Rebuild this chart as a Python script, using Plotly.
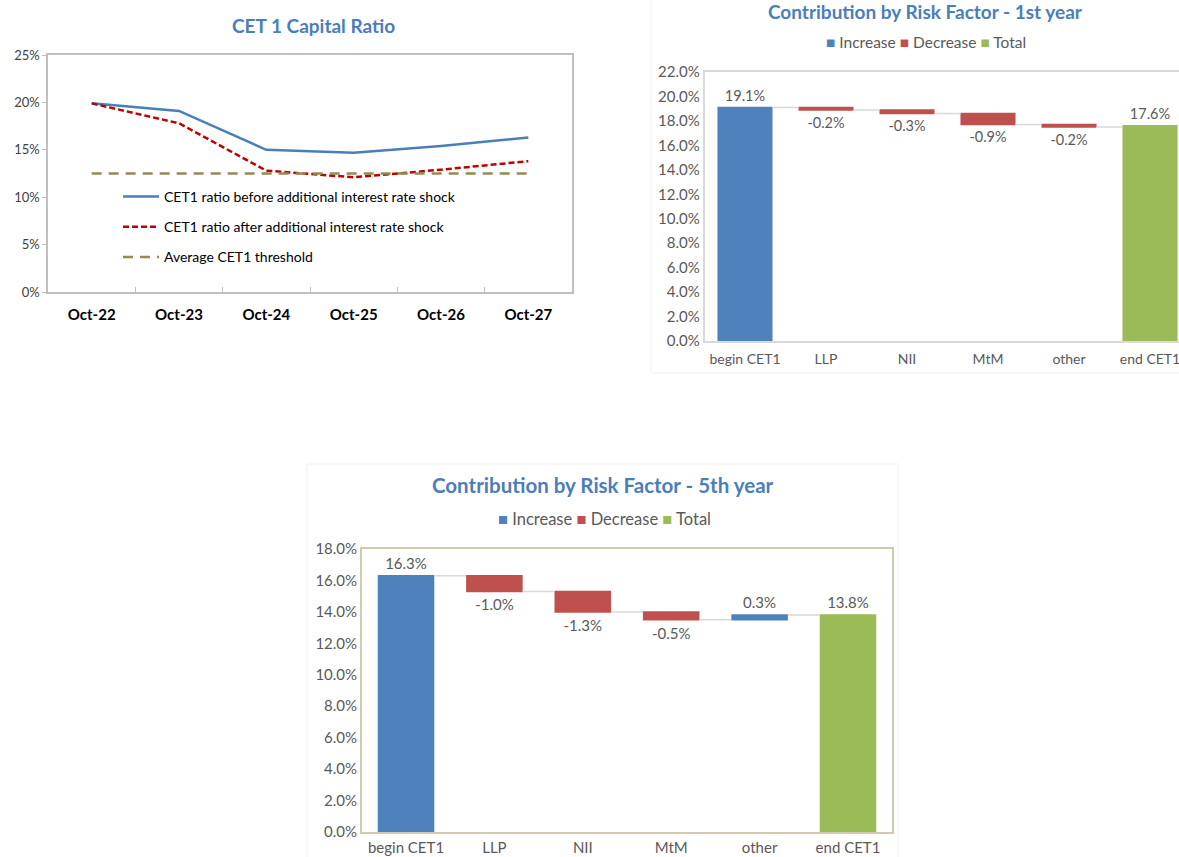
import plotly.graph_objects as go

# ---------------- data ----------------
years = ["Oct-22", "Oct-23", "Oct-24", "Oct-25", "Oct-26", "Oct-27"]
cet1_before = [19.9, 19.1, 15.0, 14.7, 15.4, 16.3]
cet1_after = [19.9, 17.8, 12.8, 12.1, 12.9, 13.8]
cet1_threshold = [12.5, 12.5, 12.5, 12.5, 12.5, 12.5]

factors = ["begin CET1", "LLP", "NII", "MtM", "other", "end CET1"]
measures = ["relative", "relative", "relative", "relative", "relative", "absolute"]
year1_values = [19.1, -0.2, -0.3, -0.9, -0.2, 17.6]
year5_values = [16.3, -1.0, -1.3, -0.5, 0.3, 13.8]

legend_names = ["Increase", "Decrease", "Total"]

# ---------------- style ----------------
W, H = 1179, 857
FONT = "Lato"
BLUE = "#4F81BD"
RED = "#C0504D"
GREEN = "#9BBB59"
TITLE_C = "#4A7EBB"
GRAY_TXT = "#595959"
legend_colors = [BLUE, RED, GREEN]


def px_x(p):
    return p / W


def px_y(p):
    return 1 - p / H


fig = go.Figure()

# ---- chart 1: line chart ----
fig.add_trace(go.Scatter(x=years, y=cet1_before, mode="lines",
                         name="CET1 ratio before additional interest rate shock",
                         line=dict(color="#4A7EBB", width=2.5),
                         xaxis="x", yaxis="y", legendgroup="a"))
fig.add_trace(go.Scatter(x=years, y=cet1_after, mode="lines",
                         name="CET1 ratio after additional interest rate shock",
                         line=dict(color="#C00000", width=2.5, dash="6px,3px"),
                         xaxis="x", yaxis="y", legendgroup="b"))
fig.add_trace(go.Scatter(x=years, y=cet1_threshold, mode="lines",
                         name="Average CET1 threshold",
                         line=dict(color="#948A54", width=2.5, dash="10px,7px"),
                         xaxis="x", yaxis="y", legendgroup="c"))


# ---- waterfalls ----
def add_waterfall(values, xa, ya, width, fsize):
    fig.add_trace(go.Waterfall(
        x=factors, y=values, measure=measures,
        text=[f"{v:.1f}%" for v in values], textposition="outside",
        textfont=dict(family=FONT, size=fsize, color=GRAY_TXT),
        cliponaxis=False,
        increasing=dict(marker=dict(color=BLUE, line=dict(width=0))),
        decreasing=dict(marker=dict(color=RED, line=dict(width=0))),
        totals=dict(marker=dict(color=GREEN, line=dict(width=0))),
        connector=dict(line=dict(color="#D9D9D9", width=1.5)),
        width=width, showlegend=False, xaxis=xa, yaxis=ya))


add_waterfall(year1_values, "x2", "y2", 0.68, 14.5)
add_waterfall(year5_values, "x3", "y3", 0.64, 15)

axis_common = dict(showgrid=False, zeroline=False, showline=True, mirror=True,
                   automargin=False)

fig.update_layout(
    width=W, height=H,
    margin=dict(l=0, r=0, t=0, b=0, autoexpand=False),
    paper_bgcolor="white", plot_bgcolor="white",
    font=dict(family=FONT, size=14, color=GRAY_TXT),
    # chart 1
    xaxis=dict(domain=[px_x(48), px_x(572)], anchor="y", type="category",
               range=[-0.5, 5.5], linecolor="#BFBFBF", linewidth=1.5,
               ticks="inside", tickson="boundaries", ticklen=5, tickcolor="#BFBFBF",
               ticklabelstandoff=8,
               tickfont=dict(family=FONT, size=15, color="#000000", weight="bold"),
               **axis_common),
    yaxis=dict(domain=[px_y(292), px_y(55)], anchor="x", range=[0, 25], dtick=5,
               ticksuffix="%", linecolor="#BFBFBF", linewidth=1.5,
               ticks="outside", ticklen=4, tickcolor="#BFBFBF",
               tickfont=dict(family=FONT, size=13, color="#404040"),
               **axis_common),
    # chart 2
    xaxis2=dict(domain=[px_x(704.5), 1.0], anchor="y2", type="category",
                range=[-0.5, 5.358], linecolor="#D9D9D9", linewidth=1.5, ticks="",
                ticklabelstandoff=4,
                tickfont=dict(family=FONT, size=14, color=GRAY_TXT), **axis_common),
    yaxis2=dict(domain=[px_y(341), px_y(72)], anchor="x2", range=[0, 22], dtick=2,
                tickformat=".1f", ticksuffix="%", linecolor="#D9D9D9", linewidth=1.5,
                ticks="", tickfont=dict(family=FONT, size=15, color=GRAY_TXT),
                **axis_common),
    # chart 3
    xaxis3=dict(domain=[px_x(361.8), px_x(892.2)], anchor="y3", type="category",
                range=[-0.5, 5.5], linecolor="#D0CBB0", linewidth=1.5, ticks="",
                ticklabelstandoff=1,
                tickfont=dict(family=FONT, size=15, color=GRAY_TXT), **axis_common),
    yaxis3=dict(domain=[px_y(832), px_y(549)], anchor="x3", range=[0, 18], dtick=2,
                tickformat=".1f", ticksuffix="%", linecolor="#D0CBB0", linewidth=1.5,
                ticks="", tickfont=dict(family=FONT, size=15, color=GRAY_TXT),
                **axis_common),
    legend=dict(x=px_x(118), y=px_y(181), xanchor="left", yanchor="top",
                bgcolor="rgba(0,0,0,0)", tracegroupgap=9, itemwidth=36,
                font=dict(family=FONT, size=14, color="#000000")),
    showlegend=True,
)

titles = [("CET 1 Capital Ratio", 313, 25, 19),
          ("Contribution by Risk Factor - 1st year", 925, 11, 19),
          ("Contribution by Risk Factor - 5th year", 603, 485, 20.5)]
for t, tx, ty, fs in titles:
    fig.add_annotation(text=t, x=px_x(tx), y=px_y(ty), xref="paper", yref="paper",
                       xanchor="center", yanchor="middle", showarrow=False,
                       font=dict(family=FONT, size=fs, color=TITLE_C, weight="bold"))

# compact Excel-style legends for the waterfalls
legend_text = " ".join(f"<span style='color:{c}'>■</span> {n}"
                       for n, c in zip(legend_names, legend_colors))
for lx, ly, fs in [(926, 42, 15.5), (604, 519, 16.5)]:
    fig.add_annotation(text=legend_text, x=px_x(lx), y=px_y(ly), xref="paper",
                       yref="paper", xanchor="center", yanchor="middle",
                       showarrow=False, font=dict(family=FONT, size=fs, color=GRAY_TXT))

# faint chart-area borders (Excel chart frames)
fig.add_shape(type="rect", xref="paper", yref="paper",
              x0=px_x(651), x1=px_x(1185), y0=px_y(373), y1=px_y(-5),
              line=dict(color="#F0F0F0", width=1), layer="below")
fig.add_shape(type="rect", xref="paper", yref="paper",
              x0=px_x(307), x1=px_x(898), y0=px_y(865), y1=px_y(464),
              line=dict(color="#F0F0F0", width=1), layer="below")

fig.write_html("out.html", config={"displayModeBar": False},
               post_script="document.body.style.margin='0px';"
                           "document.body.style.overflow='hidden';")
